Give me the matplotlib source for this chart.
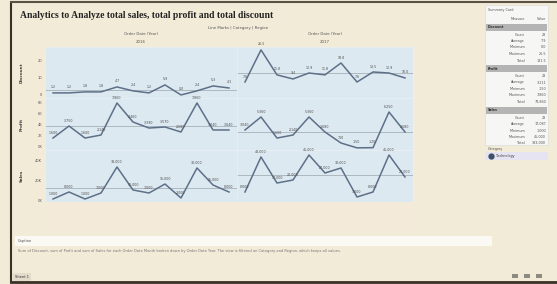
import matplotlib.pyplot as plt
import numpy as np
from matplotlib.patches import Rectangle

W, H = 557, 284

# ---- data ----
left_labels = ['January', 'February', 'March', 'April', 'May', 'June', 'July',
               'August', 'September', 'October', 'November', 'December']
right_labels = ['January', 'February', 'March', 'April', 'May', 'June', 'July',
                'August', 'September', 'October', 'November']
pane_titles = ['2016', '2017']

discount_left = [1.2, 1.2, 1.8, 1.8, 4.7, 2.4, 1.2, 5.9, 0.0, 2.4, 5.3, 4.1]
discount_right = [7.6, 26.5, 11.8, 9.4, 12.9, 11.8, 18.8, 7.6, 13.5, 12.9, 10.0]
profit_left = [1600, 3750, 1600, 2140, 7860, 4460, 3390, 3570, 2680, 7860, 3040, 3040]
profit_right = [3040, 5360, 1600, 2140, 5360, 2680, 710, -150, -120, 6250, 2680]
sales_left = [1000, 8000, 1000, 7000, 33000, 10000, 7000, 16000, 2000, 32000, 15000, 8000]
sales_right = [8000, 43000, 17000, 20000, 45000, 27000, 32000, 3000, 8000, 45000, 23000]

rows = ['Discount', 'Profit', 'Sales']
row_data = [(discount_left, discount_right), (profit_left, profit_right),
            (sales_left, sales_right)]
row_lims = [(-1.8, 28.2), (-536, 8750), (-2000, 50000)]
row_ticks = [[0, 10, 20], [0, 2000, 4000, 6000, 8000], [0, 20000, 40000]]
row_ticklabels = [['0', '10', '20'], ['0K', '2K', '4K', '6K', '8K'], ['0K', '20K', '40K']]

summary = [
    ('Discount', [('Count', '23'), ('Average', '7.9'), ('Minimum', '0.0'),
                  ('Maximum', '26.5'), ('Total', '181.5')]),
    ('Profit', [('Count', '23'), ('Average', '3,211'), ('Minimum', '-150'),
                ('Maximum', '7,860'), ('Total', '73,860')]),
    ('Sales', [('Count', '23'), ('Average', '17,087'), ('Minimum', '1,000'),
               ('Maximum', '45,000'), ('Total', '393,000')]),
]

bg = '#f2ebd8'
pane_bg = '#dde9f1'
line_c = '#5d7088'
txt = '#555555'


def box(x0, y0, x1, y1):
    return [x0 / W, 1 - y1 / H, (x1 - x0) / W, (y1 - y0) / H]


fig = plt.figure(figsize=(W / 100, H / 100), dpi=100)
fig.patch.set_facecolor(bg)
plt.rcParams['font.family'] = ['DejaVu Sans']

# frame of the window
fig.add_artist(plt.Line2D([11 / W, 11 / W], [1 - 282 / H, 1 - 3 / H], color='#3a3026', lw=1.5))
fig.add_artist(plt.Line2D([11 / W, 1], [1 - 282 / H, 1 - 282 / H], color='#3a3026', lw=2))
fig.add_artist(plt.Line2D([11 / W, 1], [1 - 2 / H, 1 - 2 / H], color='#5a5046', lw=1.5))

fig.text(20 / W, 1 - 16 / H, 'Analytics to Analyze total sales, total profit and total discount',
         fontsize=6.9, fontweight='bold', family='Liberation Serif', va='center', color='#222222')
fig.text(268 / W, 1 - 28 / H, 'Line Marks | Category | Region', fontsize=2.8,
         ha='right', va='center', color=txt)

# light strip behind the month labels
fig.add_artist(Rectangle((45 / W, 1 - 232 / H), (413 - 45) / W, 30 / H,
                         transform=fig.transFigure, facecolor='#f4ead9', edgecolor='none'))

# ---- chart panes ----
pane_x = [(45, 237, left_labels), (237, 413, right_labels)]
row_y = [(47, 98), (98, 150), (150, 202)]

for c, (x0, x1, labels) in enumerate(pane_x):
    cx = (x0 + x1) / 2
    fig.text(cx / W, 1 - 34 / H, 'Order Date (Year)', fontsize=2.8, ha='center', va='center', color=txt)
    fig.text(cx / W, 1 - 42 / H, pane_titles[c], fontsize=2.8, ha='center', va='center', color=txt)
    for r, (y0, y1) in enumerate(row_y):
        ax = fig.add_axes(box(x0, y0, x1, y1))
        ax.set_facecolor(pane_bg)
        vals = row_data[r][c]
        xs = np.arange(len(vals))
        ax.axhline(np.mean(vals), color='#9aa5ad', lw=0.5, zorder=1)
        ax.plot(xs, vals, color=line_c, lw=1.1, zorder=3)
        for xi, v in zip(xs, vals):
            if r == 0:
                s = '%.1f' % v
            else:
                s = '{:,.0f}'.format(v)
            ax.annotate(s, (xi, v), xytext=(0, 2.5), textcoords='offset points',
                        ha='center', va='bottom', fontsize=2.3, color='#4a4a4a', zorder=4)
        ax.set_xlim(-0.5, len(vals) - 0.5)
        ax.set_ylim(*row_lims[r])
        for s in ax.spines.values():
            s.set_color('#eaf1f5')
            s.set_linewidth(0.5)
        ax.tick_params(length=0, labelsize=2.6, colors=txt, pad=2)
        if c == 0:
            ax.set_yticks(row_ticks[r])
            ax.set_yticklabels(row_ticklabels[r])
        else:
            ax.set_yticks([])
        if r == 2:
            ax.set_xticks(xs)
            ax.set_xticklabels(labels, rotation=90, fontsize=3.2, color=txt)
        else:
            ax.set_xticks([])

for r, (y0, y1) in enumerate(row_y):
    fig.text(22 / W, 1 - (y0 + y1) / 2 / H, rows[r], rotation=90, fontsize=3,
             ha='center', va='center', color='#444444', fontweight='bold')

# ---- caption ----
fig.add_artist(Rectangle((15 / W, 1 - 246 / H), (492 - 15) / W, 10 / H,
                         transform=fig.transFigure, facecolor='#fbf9f4', edgecolor='none'))
fig.text(18 / W, 1 - 241 / H, 'Caption', fontsize=2.6, va='center', color=txt)
fig.text(18 / W, 1 - 251 / H,
         'Sum of Discount, sum of Profit and sum of Sales for each Order Date Month broken down by '
         'Order Date Year. The view is filtered on Category and Region, which keeps all values.',
         fontsize=2.6, va='center', color='#777777')
fig.add_artist(Rectangle((13 / W, 1 - 281 / H), 18 / W, 8 / H, transform=fig.transFigure,
                         facecolor='#e4dccb', edgecolor='none'))
fig.text(15 / W, 1 - 277 / H, 'Sheet 1', fontsize=2.6, va='center', color='#333333')
for xi in [512, 524, 536]:
    fig.add_artist(Rectangle((xi / W, 1 - 278 / H), 6 / W, 4 / H, transform=fig.transFigure,
                             facecolor='#8d8a82', edgecolor='none'))

# ---- summary card on the right ----
fig.add_artist(Rectangle((485 / W, 1 - 145 / H), 63 / W, 140 / H, transform=fig.transFigure,
                         facecolor='#f6f6f4', edgecolor='#d8d8d8', lw=0.4))
fig.text(488 / W, 1 - 10 / H, 'Summary Card', fontsize=2.4, va='center', color=txt)
fig.text(525 / W, 1 - 19 / H, 'Measure', fontsize=2.4, ha='right', va='center', color=txt)
fig.text(546 / W, 1 - 19 / H, 'Value', fontsize=2.4, ha='right', va='center', color=txt)
y = 27
for name, items in summary:
    fig.add_artist(Rectangle((486 / W, 1 - (y + 3.5) / H), 61 / W, 7 / H, transform=fig.transFigure,
                             facecolor='#b4b4b4', edgecolor='none'))
    fig.text(488 / W, 1 - y / H, name, fontsize=2.4, va='center', color='#333333', fontweight='bold')
    y += 7.5
    for lab, val in items:
        fig.text(525 / W, 1 - y / H, lab, fontsize=2.4, ha='right', va='center', color=txt)
        fig.text(546 / W, 1 - y / H, val, fontsize=2.4, ha='right', va='center', color=txt)
        y += 6.5
    y += 1.5

fig.text(488 / W, 1 - 149 / H, 'Category', fontsize=2.4, va='center', color=txt)
fig.add_artist(Rectangle((485 / W, 1 - 160 / H), 63 / W, 8 / H, transform=fig.transFigure,
                         facecolor='#e6e4f2', edgecolor='none'))
fig.add_artist(plt.Line2D([491 / W], [1 - 156 / H], marker='o', markersize=3.5,
                          color='#3d4f66', transform=fig.transFigure))
fig.text(496 / W, 1 - 156 / H, 'Technology', fontsize=2.4, va='center', color='#333333')

fig.savefig('out.png', dpi=100, facecolor=fig.get_facecolor())
